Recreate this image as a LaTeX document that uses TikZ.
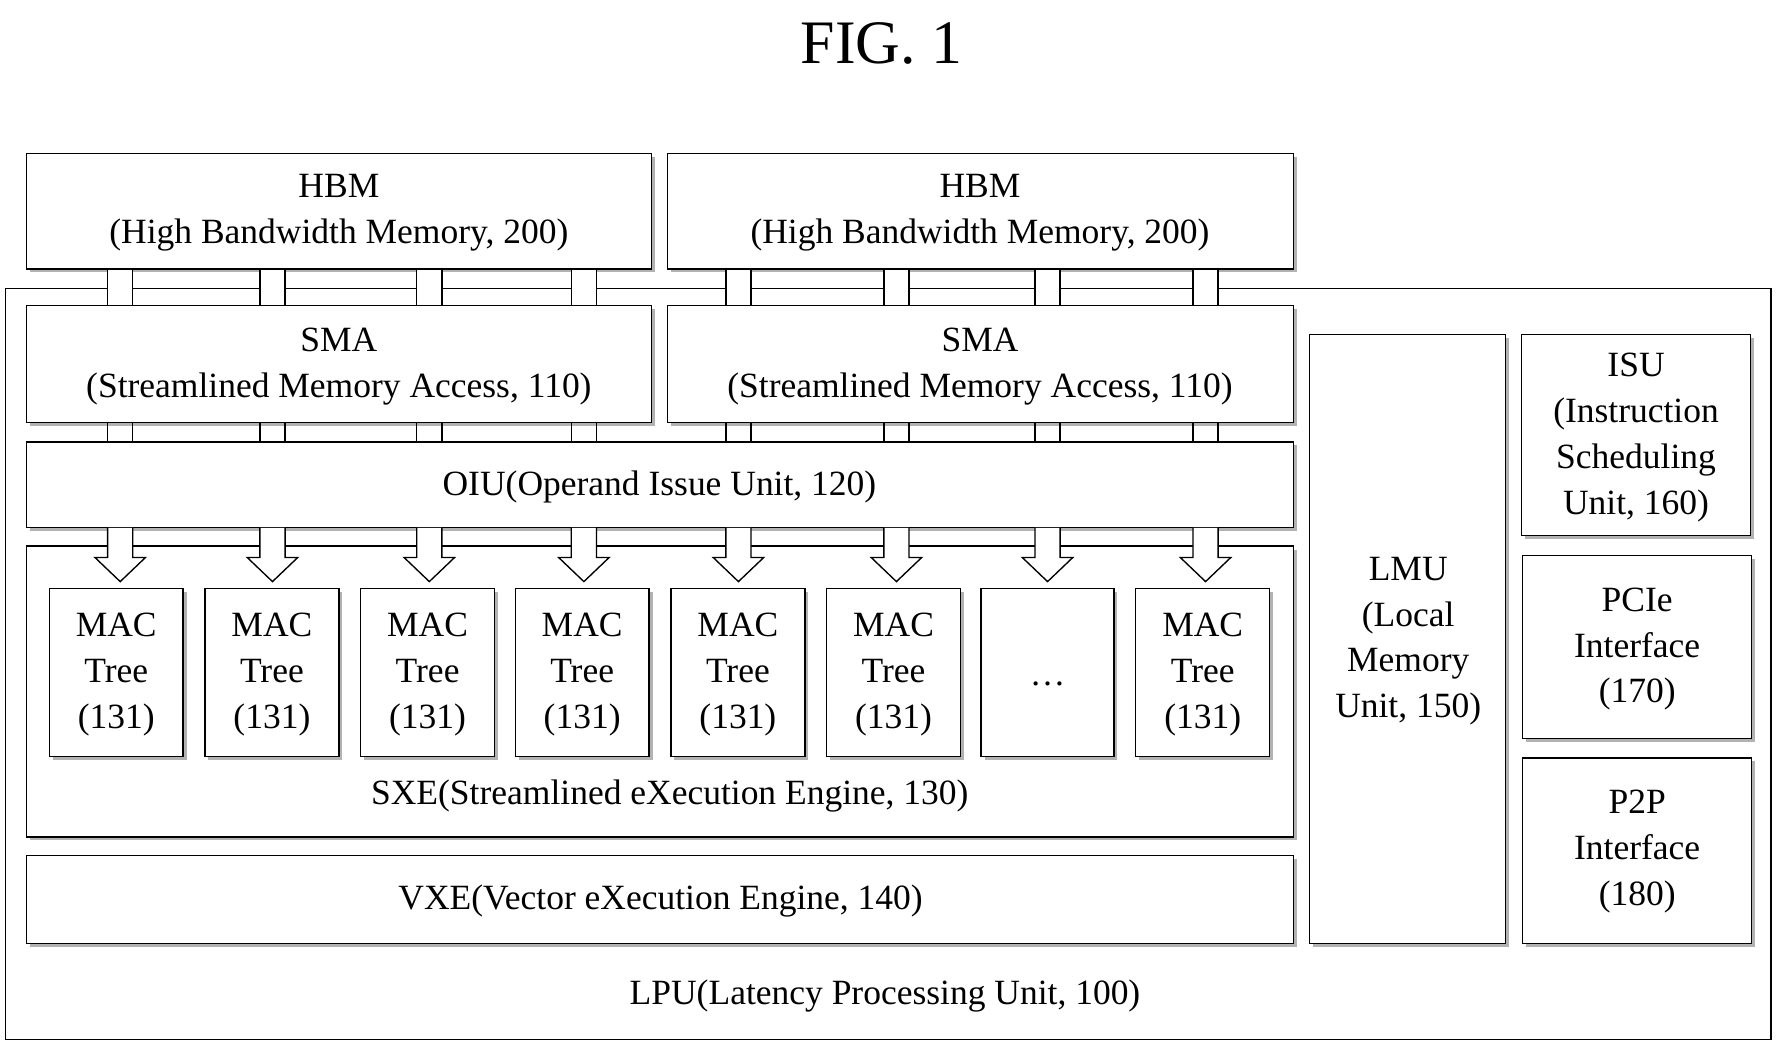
\documentclass[tikz,border=0pt]{standalone}
\usepackage{fontspec}
\setmainfont{Liberation Serif}
\begin{document}
\begin{tikzpicture}[x=1pt,y=-1pt,
  box/.style={draw,line width=1.2pt,fill=white,inner sep=0pt},
  lbl/.style={font=\fontsize{31}{40}\selectfont,align=center,inner sep=0pt},
  chan/.style={line width=1.2pt}]
\useasboundingbox (0,0) rectangle (1560,923);
\newcommand{\bx}[5]{%
  \fill[gray!60] (#2+3,#3+3) rectangle (#4+3,#5+3);
  \draw[box] (#2,#3) rectangle (#4,#5) coordinate (#1);}
\node[font=\fontsize{54}{60}\selectfont] (fig) at (770,38) {FIG. 1};
% LPU
\draw[box] (5,252) rectangle (1547,908);
\node[lbl] (lpu) at (773,870) {LPU(Latency Processing Unit, 100)};
% HBM
\bx{hbm1}{23}{134}{569}{235}
\node[lbl] (hbm1t) at (296,186) {HBM\\(High Bandwidth Memory, 200)};
\bx{hbm2}{583}{134}{1130}{235}
\node[lbl] (hbm2t) at (856,186) {HBM\\(High Bandwidth Memory, 200)};
% SMA
\bx{sma1}{23}{267}{569}{369}
\node[lbl] (sma1t) at (296,320) {SMA\\(Streamlined Memory Access, 110)};
\bx{sma2}{583}{267}{1130}{369}
\node[lbl] (sma2t) at (856,320) {SMA\\(Streamlined Memory Access, 110)};
% OIU
\bx{oiu}{23}{386}{1130}{461}
\node[lbl] (oiut) at (576,425) {OIU(Operand Issue Unit, 120)};
% SXE
\bx{sxe}{23}{477}{1130}{731}
\node[lbl] (sxet) at (585,695) {SXE(Streamlined eXecution Engine, 130)};
% VXE
\bx{vxe}{23}{747}{1130}{824}
\node[lbl] (vxet) at (577,787) {VXE(Vector eXecution Engine, 140)};
% right column
\bx{lmu}{1144}{292}{1315}{824}
\node[lbl] (lmut) at (1230,560) {LMU\\(Local\\Memory\\Unit, 150)};
\bx{isu}{1329}{292}{1529}{468}
\node[lbl] (isut) at (1429,382) {ISU\\(Instruction\\Scheduling\\Unit, 160)};
\bx{pcie}{1330}{485}{1530}{645}
\node[lbl] (pciet) at (1430,567) {PCIe\\Interface\\(170)};
\bx{p2p}{1330}{662}{1530}{824}
\node[lbl] (p2pt) at (1430,744) {P2P\\Interface\\(180)};
% MAC trees
\foreach \l/\i in {43/1,179/2,315/3,450/4,586/5,722/6,992/8}{
  \bx{mac\i}{\l}{514}{\l+117}{661}
  \node[lbl] (mac\i t) at (\l+58.5,589) {MAC\\Tree\\(131)};
}
\bx{mac7}{857}{514}{973}{661}
\node[lbl] (mac7t) at (915,597) {\dots};
% channels and arrows
\foreach \c in {105,238,375,510,645,783,915,1053}{
  \fill[white] (\c-11,236) rectangle (\c+11,266);
  \draw[chan] (\c-11,235) -- (\c-11,267) (\c+11,235) -- (\c+11,267);
  \draw[chan] (\c-11,369) -- (\c-11,386) (\c+11,369) -- (\c+11,386);
  \draw[chan,fill=white] (\c-11,461) -- (\c-11,487) -- (\c-22,487) -- (\c,508)
     -- (\c+22,487) -- (\c+11,487) -- (\c+11,461);
}
\end{tikzpicture}
\end{document}
